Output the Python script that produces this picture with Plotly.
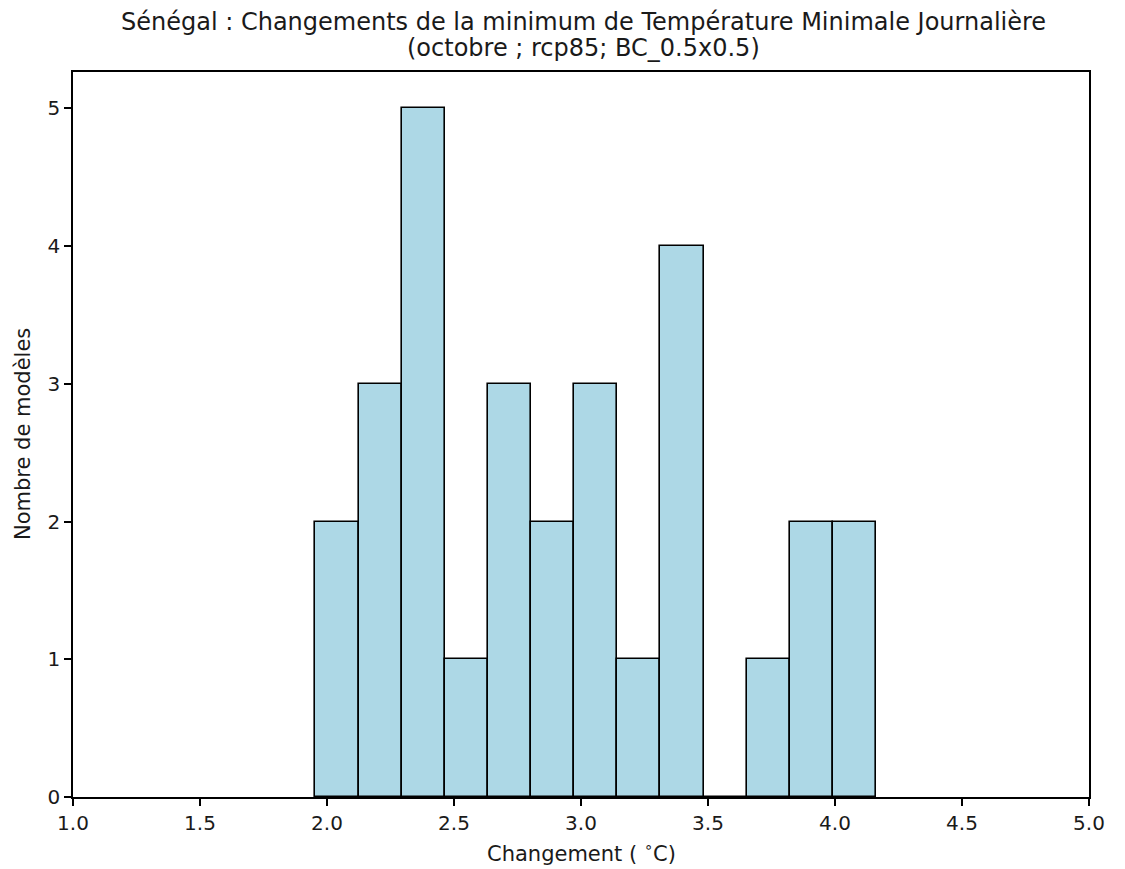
import plotly.graph_objects as go

# Histogram data
bin_left = 1.9547
bin_width = 0.16976
counts = [2, 3, 5, 1, 3, 2, 3, 1, 4, 0, 1, 2, 2]
x_ticks = [1.0, 1.5, 2.0, 2.5, 3.0, 3.5, 4.0, 4.5, 5.0]
y_ticks = [0, 1, 2, 3, 4, 5]
title_line1 = "Sénégal : Changements de la minimum de Température Minimale Journalière"
title_line2 = "(octobre ; rcp85; BC_0.5x0.5)"
x_label = "Changement ( <sup>∘</sup>C)"
y_label = "Nombre de modèles"

centers = [bin_left + bin_width * (i + 0.5) for i in range(len(counts))]

fig = go.Figure()
fig.add_trace(go.Bar(
    x=centers, y=counts, width=[bin_width] * len(counts),
    marker=dict(color="#ADD8E6", line=dict(color="black", width=1.6)),
    showlegend=False, hoverinfo="x+y",
))

font = "DejaVu Sans, sans-serif"
W, H = 1117, 869
L, R, T, B = 73, 17, 72, 72
pw, ph = W - L - R, H - T - B

fig.update_layout(
    width=W, height=H,
    paper_bgcolor="white", plot_bgcolor="white",
    margin=dict(l=L, r=R, t=T, b=B),
    bargap=0,
    font=dict(family=font, size=20, color="black"),
    annotations=[
        dict(text=title_line1, xref="paper", yref="paper", x=(589 - L) / pw, y=1 + 50 / ph,
             xanchor="center", yanchor="middle", showarrow=False,
             font=dict(family=font, size=24, color="#1a1a1a")),
        dict(text=title_line2, xref="paper", yref="paper", x=(589 - L) / pw, y=1 + 24 / ph,
             xanchor="center", yanchor="middle", showarrow=False,
             font=dict(family=font, size=24, color="#1a1a1a")),
        dict(text=x_label, xref="paper", yref="paper", x=0.5, y=-55 / ph,
             xanchor="center", yanchor="middle", showarrow=False,
             font=dict(family=font, size=21, color="#1a1a1a")),
        dict(text=y_label, xref="paper", yref="paper", x=-51 / pw, y=0.5,
             xanchor="center", yanchor="middle", showarrow=False, textangle=-90,
             font=dict(family=font, size=21, color="#1a1a1a")),
    ],
)
fig.update_xaxes(
    range=[1.0, 5.0], tickvals=x_ticks, ticktext=[f"{v:.1f}" for v in x_ticks],
    showgrid=False, zeroline=False, showline=True, linecolor="black", linewidth=1.6,
    mirror=True, ticks="outside", ticklen=7, tickwidth=1.6, tickcolor="black",
    tickfont=dict(size=20, color="#1a1a1a"), ticklabeloverflow="allow",
)
fig.update_yaxes(
    range=[0, 5.265], tickvals=y_ticks,
    showgrid=False, zeroline=False, showline=True, linecolor="black", linewidth=1.6,
    mirror=True, ticks="outside", ticklen=7, tickwidth=1.6, tickcolor="black",
    tickfont=dict(size=20, color="#1a1a1a"),
)

# remove the browser's default 8px body margin so the figure sits at the window corner
fig.write_html(
    "out.html",
    config={"displayModeBar": False},
    post_script="document.body.style.margin='0';document.body.style.overflow='hidden';",
)
